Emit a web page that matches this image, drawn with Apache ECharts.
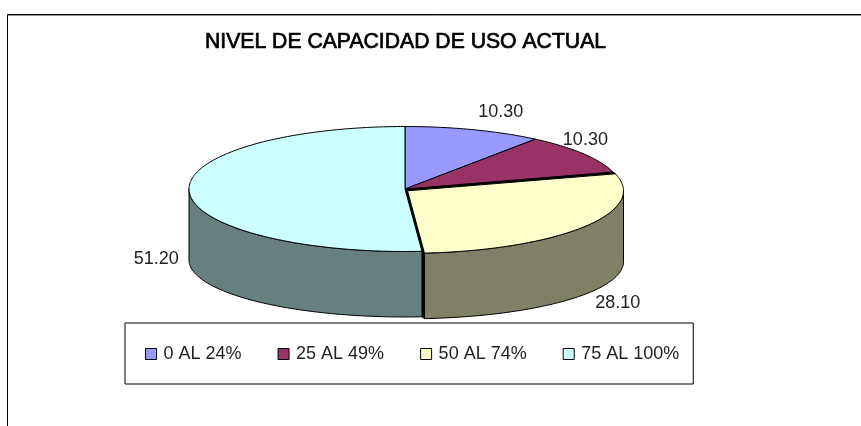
<!DOCTYPE html>
<html><head><meta charset="utf-8">
<style>html,body{margin:0;padding:0;background:#fff}#c{width:861px;height:426px}</style>
<script src="https://cdn.jsdelivr.net/npm/echarts@6/dist/echarts.min.js"></script>
</head><body><div id="c"></div>
<script>
var TITLE = 'NIVEL DE CAPACIDAD DE USO ACTUAL';
var CATEGORIES = ['0 AL 24%', '25 AL 49%', '50 AL 74%', '75 AL 100%'];
var VALUES = [10.30, 10.30, 28.10, 51.20];
var VALUE_LABELS = ['10.30', '10.30', '28.10', '51.20'];

var TOP_COLORS = ['#9999FF', '#993366', '#FFFFCC', '#CCFFFF'];
var WALL_COLORS = ['#4D4D80', '#4D1A33', '#808066', '#668080'];
var GEO = {cx: 405, cy: 189, rx: 216, ry: 62.5, bottomCy: 260, bottomRy: 57};
var EXPLODE = [[0, 0], [0, 0], [2.5, 1.8], [0, 0]];
var LABEL_OFFSET = [[27, -18], [2, -14], [33, 77], [-33, 68]];
var FONT = '18px "Liberation Sans", Arial, sans-serif';

var total = VALUES.reduce(function (a, b) { return a + b; }, 0);
function startAngle(i) {
  var s = 0;
  for (var k = 0; k < i; k++) s += VALUES[k];
  return s / total * 2 * Math.PI;
}
function rim(a, off) { return [GEO.cx + off[0] + GEO.rx * Math.sin(a), GEO.cy + off[1] - GEO.ry * Math.cos(a)]; }
function rimLow(a, off) { return [GEO.cx + off[0] + GEO.rx * Math.sin(a), GEO.bottomCy + off[1] - GEO.bottomRy * Math.cos(a)]; }
function arc(fn, a0, a1, off) {
  var n = Math.max(2, Math.ceil(Math.abs(a1 - a0) / 0.02)), pts = [];
  for (var i = 0; i <= n; i++) pts.push(fn(a0 + (a1 - a0) * i / n, off));
  return pts;
}
function poly(points, fill, stroke, z2) {
  return {type: 'polygon', z2: z2, shape: {points: points},
    style: {fill: fill, stroke: stroke || '#000', lineWidth: 1}};
}
function renderSlice(params, api) {
  var i = params.seriesIndex;
  var a0 = startAngle(i), a1 = startAngle(i + 1), off = EXPLODE[i], none = [0, 0];
  var apex = [GEO.cx + off[0], GEO.cy + off[1]], kids = [];
  var w0 = Math.max(a0, Math.PI / 2), w1 = Math.min(a1, 3 * Math.PI / 2);
  if (off[0] || off[1]) {
    [a0, a1].forEach(function (a) {
      kids.push(poly([[GEO.cx, GEO.cy], rim(a, none), rim(a, off), apex], '#000', '#000', 1));
      kids.push(poly([rim(a, none), rimLow(a, none), rimLow(a, off), rim(a, off)], '#000', '#000', 1));
    });
  }
  if (w1 > w0) {
    kids.push(poly(arc(rim, w0, w1, off).concat(arc(rimLow, w1, w0, off)), WALL_COLORS[i], '#000', 2));
  }
  kids.push(poly([apex].concat(arc(rim, a0, a1, off)), TOP_COLORS[i], '#000', 3));
  var mid = (a0 + a1) / 2, p = rim(mid, off);
  kids.push({type: 'text', z2: 4, style: {
    x: p[0] + LABEL_OFFSET[i][0], y: p[1] + LABEL_OFFSET[i][1],
    text: VALUE_LABELS[i], font: FONT, fill: '#222', align: 'center', verticalAlign: 'middle'}});
  return {type: 'group', children: kids};
}

var chart = echarts.init(document.getElementById('c'), null, {renderer: 'canvas'});
chart.setOption({
  animation: false,
  backgroundColor: '#fff',
  title: {text: TITLE, left: 205, top: 32, padding: 0,
    textStyle: {fontFamily: '"Liberation Sans", Arial, sans-serif', fontSize: 21.2, fontWeight: 'normal', color: '#000',
      textBorderColor: '#000', textBorderWidth: 0.7}},
  legend: {
    data: CATEGORIES, left: 125, top: 323, orient: 'horizontal', icon: 'rect',
    itemWidth: 11, itemHeight: 11, itemGap: 36, padding: [22, 14, 21, 20],
    backgroundColor: '#fff', borderColor: '#000', borderWidth: 1,
    itemStyle: {borderColor: '#000', borderWidth: 1},
    textStyle: {fontFamily: '"Liberation Sans", Arial, sans-serif', fontSize: 18, color: '#222', padding: [0, 0, 0, 2]}
  },
  graphic: [
    {type: 'line', shape: {x1: 7.5, y1: 14.5, x2: 861, y2: 14.5}, style: {stroke: '#000', lineWidth: 1}},
    {type: 'line', shape: {x1: 7, y1: 15.5, x2: 861, y2: 15.5}, style: {stroke: '#999', lineWidth: 1}},
    {type: 'line', shape: {x1: 7.5, y1: 14.5, x2: 7.5, y2: 426}, style: {stroke: '#000', lineWidth: 1}}
  ],
  series: CATEGORIES.map(function (name, i) {
    return {type: 'custom', name: name, coordinateSystem: 'none', renderItem: renderSlice,
      z: i === 2 ? 1 : 2,
      itemStyle: {color: TOP_COLORS[i]}, silent: true, data: [[VALUES[i]]]};
  })
});
</script></body></html>
